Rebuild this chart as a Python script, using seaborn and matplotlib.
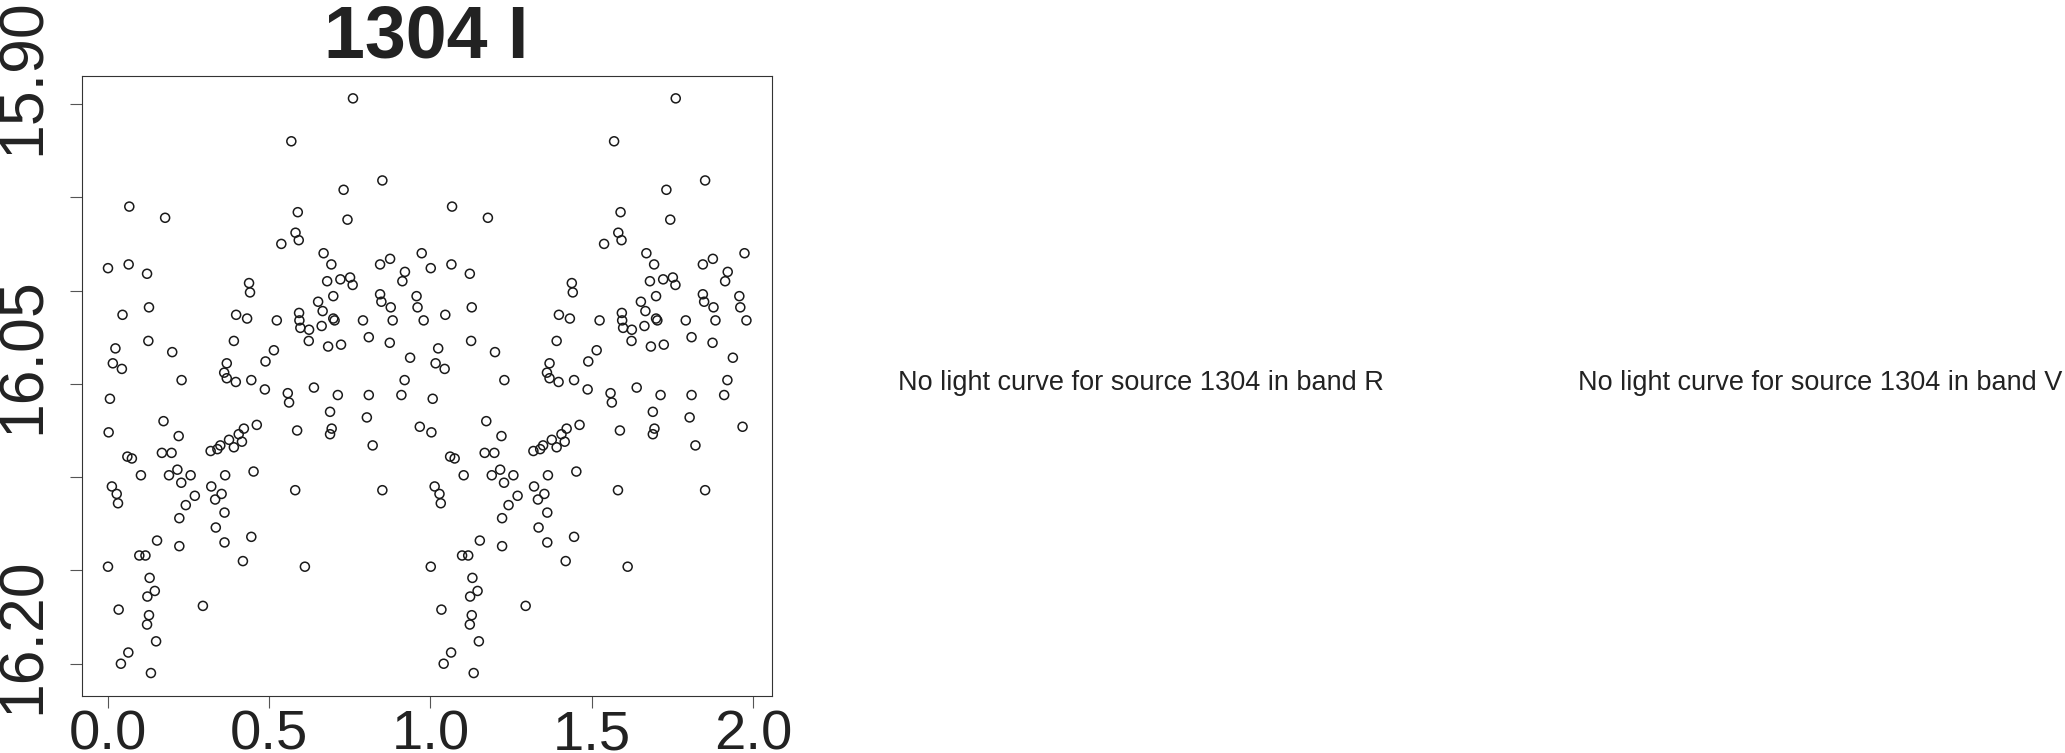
import matplotlib
matplotlib.use('Agg')
import matplotlib.pyplot as plt
import matplotlib.transforms as mtransforms
import pandas as pd
import seaborn as sns

# folded light curve of source 1304, band I (one cycle, drawn twice)
phase = [0.067, 0.178, 0.001, 0.065, 0.122, 0.128, 0.046, 0.126, 0.024, 0.200,
         0.016, 0.044, 0.229, 0.438, 0.441, 0.398, 0.432, 0.391, 0.369, 0.361,
         0.369, 0.397, 0.445, 0.489, 0.487, 0.007, 0.173, 0.003, 0.220, 0.462,
         0.422, 0.406, 0.416, 0.376, 0.391, 0.349, 0.340, 0.319, 0.061, 0.075,
         0.168, 0.198, 0.103, 0.190, 0.216, 0.228, 0.257, 0.364, 0.452, 0.013,
         0.028, 0.032, 0.321, 0.353, 0.333, 0.270, 0.242, 0.222, 0.362, 0.335,
         0.153, 0.222, 0.362, 0.445, 0.098, 0.117, 0.001, 0.419, 0.130, 0.146,
         0.123, 0.034, 0.295, 0.128, 0.122, 0.150, 0.064, 0.041, 0.134, 0.760,
         0.569, 0.851, 0.731, 0.589, 0.743, 0.582, 0.592, 0.538, 0.669, 0.693,
         0.844, 0.875, 0.973, 0.921, 0.913, 0.680, 0.721, 0.751, 0.759, 0.699,
         0.652, 0.666, 0.844, 0.848, 0.877, 0.957, 0.960, 0.593, 0.594, 0.597,
         0.624, 0.524, 0.663, 0.699, 0.703, 0.791, 0.883, 0.979, 0.623, 0.683,
         0.723, 0.809, 0.874, 0.515, 0.937, 0.920, 0.558, 0.639, 0.713, 0.809,
         0.910, 0.562, 0.689, 0.803, 0.587, 0.694, 0.689, 0.821, 0.967, 0.581,
         0.851, 0.611]
mag = [15.955, 15.961, 15.988, 15.986, 15.991, 16.009, 16.013, 16.027, 16.031, 16.033,
       16.039, 16.042, 16.048, 15.996, 16.001, 16.013, 16.015, 16.027, 16.039, 16.044,
       16.047, 16.049, 16.048, 16.038, 16.053, 16.058, 16.070, 16.076, 16.078, 16.072,
       16.074, 16.077, 16.081, 16.080, 16.084, 16.083, 16.085, 16.086, 16.089, 16.090,
       16.087, 16.087, 16.099, 16.099, 16.096, 16.103, 16.099, 16.099, 16.097, 16.105,
       16.109, 16.114, 16.105, 16.109, 16.112, 16.110, 16.115, 16.122, 16.119, 16.127,
       16.134, 16.137, 16.135, 16.132, 16.142, 16.142, 16.148, 16.145, 16.154, 16.161,
       16.164, 16.171, 16.169, 16.174, 16.179, 16.188, 16.194, 16.200, 16.205, 15.897,
       15.920, 15.941, 15.946, 15.958, 15.962, 15.969, 15.973, 15.975, 15.980, 15.986,
       15.986, 15.983, 15.980, 15.990, 15.995, 15.995, 15.994, 15.993, 15.997, 16.003,
       16.006, 16.011, 16.002, 16.006, 16.009, 16.003, 16.009, 16.012, 16.016, 16.020,
       16.021, 16.016, 16.019, 16.015, 16.016, 16.016, 16.016, 16.016, 16.027, 16.030,
       16.029, 16.025, 16.028, 16.032, 16.036, 16.048, 16.055, 16.052, 16.056, 16.056,
       16.056, 16.060, 16.065, 16.068, 16.075, 16.074, 16.077, 16.083, 16.073, 16.107,
       16.107, 16.148]

source_id = '1304'
band = 'I'
missing_bands = ['R', 'V']
missing_x = [0.4349, 0.7642]

yticks = [15.90, 15.95, 16.00, 16.05, 16.10, 16.15, 16.20]
ytick_labels = ['15.90', '', '', '16.05', '', '', '16.20']
xticks = [0.0, 0.5, 1.0, 1.5, 2.0]
xtick_labels = ['0.0', '0.5', '1.0', '1.5', '2.0']

sns.set_theme(style='white')
plt.rcParams['font.family'] = ['Liberation Sans', 'DejaVu Sans']

df = pd.DataFrame({'phase': phase + [p + 1 for p in phase],
                   'mag': mag + mag})

fig = plt.figure(figsize=(20.65, 7.53), dpi=100)
ax = fig.add_axes([0.03956, 0.0757, 0.3341, 0.8234])

sns.scatterplot(data=df, x='phase', y='mag', ax=ax, marker='o', s=42,
                facecolors='none', edgecolor='#1a1a1a', linewidth=1.1)

ax.set_xlim(-0.0805, 2.057)
ax.set_ylim(16.2173, 15.885)
ax.set_xticks(xticks)
ax.set_xticklabels(xtick_labels)
ax.set_yticks(yticks)
ax.set_yticklabels(ytick_labels, rotation=90, va='center')
ax.set_xlabel('')
ax.set_ylabel('')

for s in ax.spines.values():
    s.set_visible(True)
    s.set_color('#333333')
    s.set_linewidth(0.8)

ax.tick_params(axis='both', direction='out', length=8.6, width=0.8,
               color='#555555', labelcolor='#222222')
ax.tick_params(axis='x', pad=1.0, labelsize=40.5, bottom=True)
ax.tick_params(axis='y', pad=12, labelsize=45, left=True)

# y labels sit a little above their ticks in the original
shift = mtransforms.ScaledTranslation(0, 20 / 72, fig.dpi_scale_trans)
for lab in ax.get_yticklabels():
    lab.set_transform(lab.get_transform() + shift)

fig.text(0.2066, 1 - 57 / 753, source_id + ' ' + band, ha='center', va='baseline',
         fontsize=53, fontweight='bold', color='#222222')

for b, x in zip(missing_bands, missing_x):
    fig.text(x, 1 - 390 / 753, f'No light curve for source {source_id} in band {b}',
             ha='left', va='baseline', fontsize=19.5, color='#222222')

fig.savefig('out.png', dpi=100)
